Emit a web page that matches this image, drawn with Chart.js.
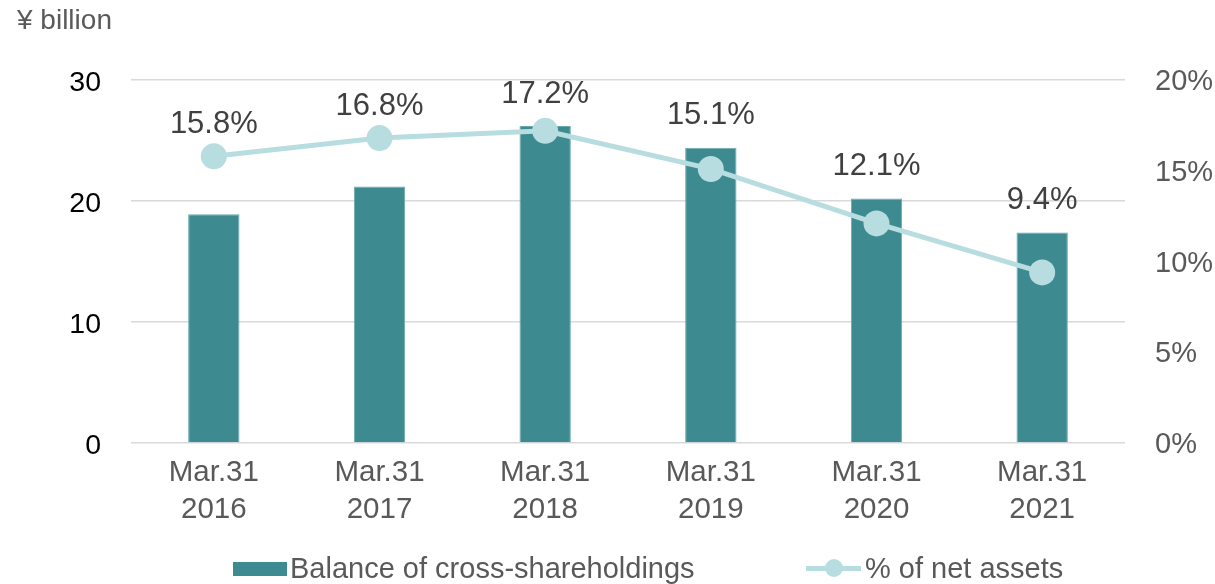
<!DOCTYPE html>
<html>
<head>
<meta charset="utf-8">
<script src="https://cdn.jsdelivr.net/npm/chart.js@4/dist/chart.umd.min.js"></script>
<style>
  html, body { margin: 0; padding: 0; background: #fff; }
  #wrap { position: relative; width: 1215px; height: 584px; font-family: "Liberation Sans", Arial, sans-serif; }
  canvas { position: absolute; left: 0; top: 0; }
  #unit { position: absolute; left: 17px; top: 4px; font-size: 28px; color: #595959; }
  .leg { position: absolute; top: 551px; font-size: 29px; color: #595959; line-height: 34px; white-space: nowrap; }
  .box { position: absolute; left: 233px; top: 562px; width: 54px; height: 14px; background: #3d8b91; }
  .lline { position: absolute; left: 806px; top: 566px; width: 55px; height: 5px; background: #b7dde1; }
  .ldot { position: absolute; left: 825px; top: 559px; width: 18px; height: 18px; border-radius: 50%; background: #b7dde1; }
</style>
</head>
<body>
<div id="wrap">
  <canvas id="c" width="1215" height="584"></canvas>
  <div id="unit">¥ billion</div>
  <div class="box"></div>
  <div class="leg" style="left:290px;">Balance of cross-shareholdings</div>
  <div class="lline"></div>
  <div class="ldot"></div>
  <div class="leg" style="left:865px;">% of net assets</div>
</div>
<script>
const categories = [["Mar.31","2016"],["Mar.31","2017"],["Mar.31","2018"],["Mar.31","2019"],["Mar.31","2020"],["Mar.31","2021"]];
const balance = [18.9, 21.2, 26.2, 24.4, 20.2, 17.4];
const pctNetAssets = [15.8, 16.8, 17.2, 15.1, 12.1, 9.4];
const leftTicks = [0, 10, 20, 30];
const rightTicks = [0, 5, 10, 15, 20];

const FONT = '"Liberation Sans", Arial, sans-serif';

const labelPlugin = {
  id: 'pctLabels',
  afterDatasetsDraw(chart) {
    const ctx = chart.ctx;
    const lineMeta = chart.getDatasetMeta(0);
    const barMeta = chart.getDatasetMeta(1);
    ctx.save();
    ctx.font = '31px ' + FONT;
    ctx.fillStyle = '#404040';
    ctx.textAlign = 'center';
    ctx.textBaseline = 'middle';
    lineMeta.data.forEach((pt, i) => {
      const bar = barMeta.data[i];
      const top = Math.min(pt.y, bar.y);
      ctx.fillText(pctNetAssets[i].toFixed(1) + '%', pt.x, top - 32);
    });
    ctx.restore();
  }
};

new Chart(document.getElementById('c'), {
  type: 'bar',
  data: {
    labels: categories,
    datasets: [
      {
        type: 'line',
        data: pctNetAssets,
        yAxisID: 'y1',
        borderColor: '#b7dde1',
        backgroundColor: '#b7dde1',
        borderWidth: 5,
        pointRadius: 13,
        pointHoverRadius: 13,
        pointBackgroundColor: '#b7dde1',
        pointBorderWidth: 0,
        tension: 0,
        order: 0
      },
      {
        type: 'bar',
        data: balance,
        yAxisID: 'y',
        backgroundColor: '#3d8b91',
        borderColor: '#6aa9ae',
        borderWidth: 1,
        categoryPercentage: 1,
        barPercentage: 0.31,
        order: 1
      }
    ]
  },
  options: {
    responsive: false,
    animation: false,
    events: [],
    layout: { padding: { top: 80, left: 0, right: 0, bottom: 0 } },
    plugins: { legend: { display: false }, tooltip: { enabled: false } },
    scales: {
      x: {
        grid: { display: false, drawTicks: false },
        border: { display: false },
        ticks: { font: { family: FONT, size: 29.5, lineHeight: 1.24 }, color: '#595959', padding: 12, maxRotation: 0 },
        afterFit(s) { s.height = 141; }
      },
      y: {
        position: 'left',
        min: 0, max: 30,
        afterBuildTicks(s) { s.ticks = leftTicks.map(v => ({ value: v })); },
        grid: { color: '#d9d9d9', lineWidth: 1.5, drawTicks: false },
        border: { display: false },
        ticks: { font: { family: FONT, size: 28.5 }, color: '#000000', padding: 30, labelOffset: 3 },
        afterFit(s) { s.width = 131; }
      },
      y1: {
        position: 'right',
        min: 0, max: 20,
        afterBuildTicks(s) { s.ticks = rightTicks.map(v => ({ value: v })); },
        grid: { display: false, drawTicks: false },
        border: { display: false },
        ticks: { font: { family: FONT, size: 29 }, color: '#595959', padding: 30, labelOffset: 2, callback: v => v + '%' },
        afterFit(s) { s.width = 90; }
      }
    }
  },
  plugins: [labelPlugin]
});
</script>
</body>
</html>
